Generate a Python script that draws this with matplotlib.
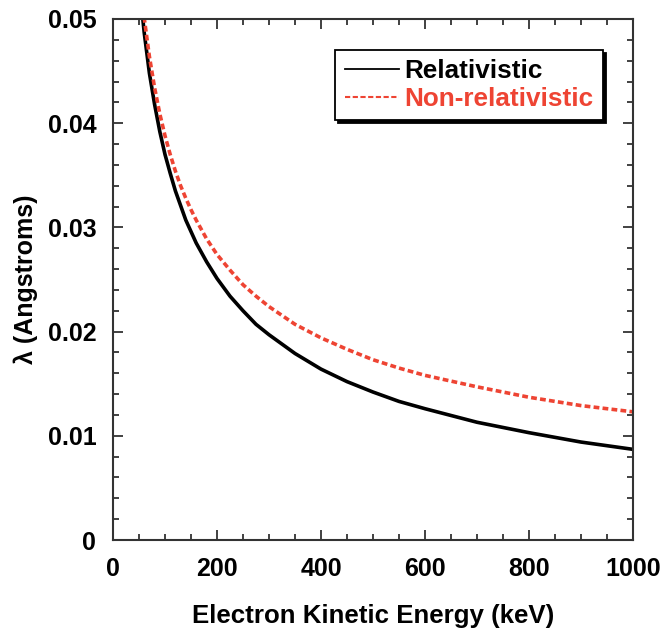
import matplotlib
matplotlib.use("Agg")
import matplotlib.pyplot as plt
from matplotlib.lines import Line2D
from matplotlib.ticker import MultipleLocator

plt.rcParams['font.family'] = ['Liberation Sans', 'DejaVu Sans']
plt.rcParams['font.weight'] = 'bold'

# energies (keV) and wavelengths (Angstroms)
energy = [50, 60, 70, 80, 90, 100, 110, 120, 130, 140, 150, 160, 180, 200,
          225, 250, 275, 300, 350, 400, 450, 500, 550, 600, 700, 800, 900, 1000]
lam_rel = [0.0536, 0.0487, 0.0448, 0.0418, 0.0392, 0.0370, 0.0352, 0.0335,
           0.0321, 0.0307, 0.0296, 0.0285, 0.0267, 0.0251, 0.0234, 0.0220,
           0.0207, 0.0197, 0.0179, 0.0164, 0.0152, 0.0142, 0.0133, 0.0126,
           0.0113, 0.0103, 0.0094, 0.0087]
lam_nonrel = [0.0549, 0.0501, 0.0464, 0.0434, 0.0409, 0.0388, 0.0370, 0.0354,
              0.0340, 0.0328, 0.0317, 0.0307, 0.0289, 0.0274, 0.0259, 0.0245,
              0.0234, 0.0224, 0.0207, 0.0194, 0.0183, 0.0173, 0.0165, 0.0158,
              0.0147, 0.0137, 0.0129, 0.0123]

red = '#ee4433'

fig = plt.figure(figsize=(6.6, 6.3), dpi=100)
ax = fig.add_axes([113/660, 1 - 540/630, (633 - 113)/660, (540 - 19)/630])

ax.plot(energy, lam_rel, color='black', lw=2.6)
ax.plot(energy, lam_nonrel, color=red, lw=2.6, dashes=(1.6, 0.9))

ax.set_xlim(0, 1000)
ax.set_ylim(0, 0.05)
ax.xaxis.set_major_locator(MultipleLocator(200))
ax.xaxis.set_minor_locator(MultipleLocator(50))
ax.yaxis.set_minor_locator(MultipleLocator(0.002))
ax.set_yticks([0, 0.01, 0.02, 0.03, 0.04, 0.05])
ax.set_yticklabels(['0', '0.01', '0.02', '0.03', '0.04', '0.05'])

ax.tick_params(which='both', direction='in', top=True, right=True,
               color='#333333', labelsize=18, width=1.3)
ax.tick_params(which='major', length=7)
ax.tick_params(axis='x', which='major', pad=12)
ax.tick_params(axis='y', which='major', pad=12)
ax.tick_params(which='minor', length=4)
for s in ax.spines.values():
    s.set_color('#333333')
    s.set_linewidth(1.5)

ax.set_xlabel('Electron Kinetic Energy (keV)', fontsize=18.6,
              fontweight='bold', labelpad=17)
ax.set_ylabel('λ (Angstroms)', fontsize=18, fontweight='bold', labelpad=7)

handles = [Line2D([], [], color='black', lw=1.3),
           Line2D([], [], color=red, lw=1.5, dashes=(2.5, 1.2))]
leg = ax.legend(handles, ['Relativistic', 'Non-relativistic'],
                loc='upper right', bbox_to_anchor=(0.942, 0.94),
                borderaxespad=0,
                fontsize=18.8, frameon=True, fancybox=False,
                edgecolor='black', framealpha=1,
                shadow={'color': 'black', 'alpha': 1},
                handlelength=2.1, handletextpad=0.2, borderpad=0.35,
                labelspacing=0.15, labelcolor=['black', red])
leg.get_frame().set_linewidth(1.3)

fig.savefig('out.png', dpi=100)
